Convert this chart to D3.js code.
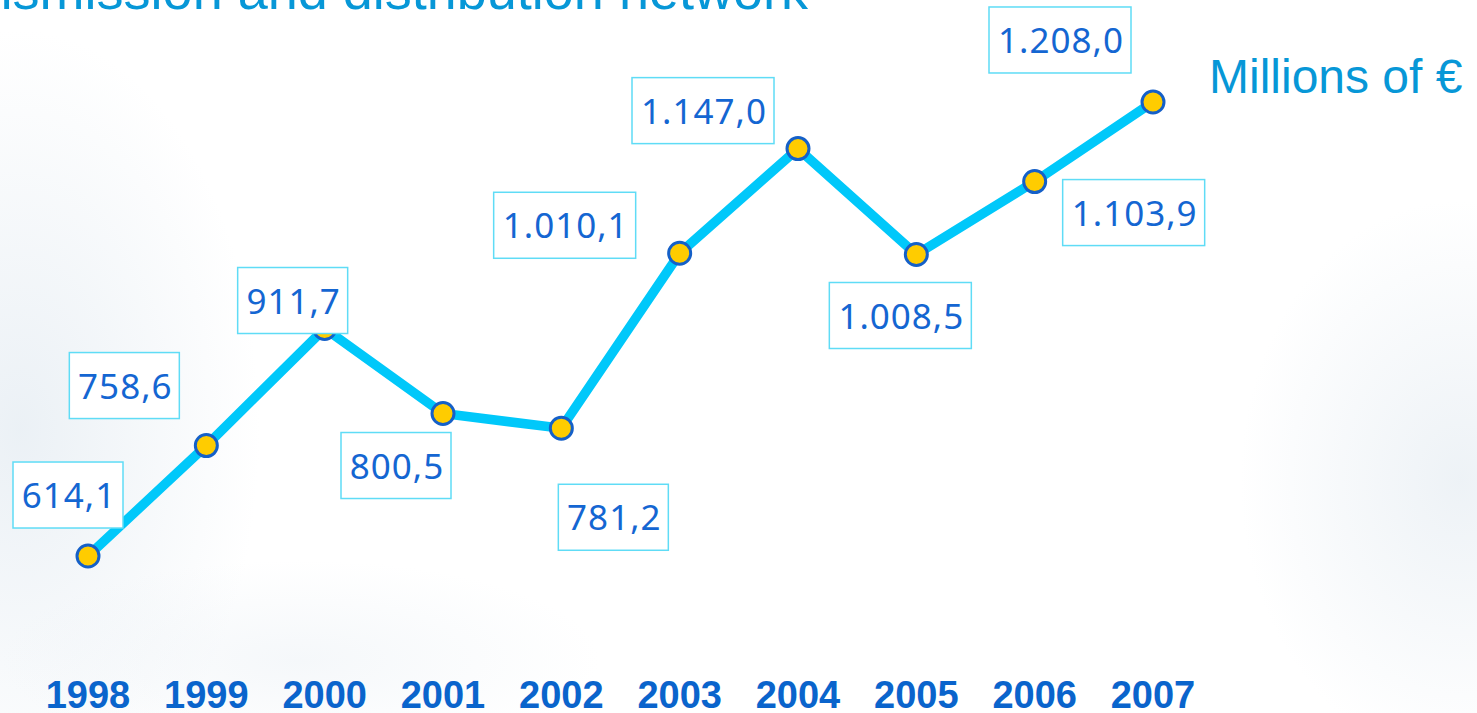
<!DOCTYPE html>
<html>
<head>
<meta charset="utf-8">
<script src="https://cdn.jsdelivr.net/npm/d3@7"></script>
<style>
  html, body { margin: 0; padding: 0; background: #fff; overflow: hidden; }
  svg { display: block; }
</style>
</head>
<body>
<div id="chart"></div>
<script>
// data
let years = [1998, 1999, 2000, 2001, 2002, 2003, 2004, 2005, 2006, 2007];
let values = [614.1, 758.6, 911.7, 800.5, 781.2, 1010.1, 1147.0, 1008.5, 1103.9, 1208.0];
let valueLabels = ["614,1", "758,6", "911,7", "800,5", "781,2", "1.010,1", "1.147,0", "1.008,5", "1.103,9", "1.208,0"];
let titleText = "Transmission and distribution network";
let unitText = "Millions of \u20ac";

// layout of value boxes relative to their point (not data)
let labelOffsets = [[-20, -61], [-82, -60], [-32, -28], [-47, 52], [52, 89],
                    [-115, -28], [-95, -38], [-16, 61], [99, 31], [-93, -62]];

let w = 1477, h = 713;

let svg = d3.select("#chart")
    .append("svg")
    .attr("width", w)
    .attr("height", h);

// soft background blobs
let defs = svg.append("defs");
function blob(id, color) {
    let g = defs.append("radialGradient").attr("id", id);
    g.append("stop").attr("offset", "0%").attr("stop-color", color).attr("stop-opacity", 1);
    g.append("stop").attr("offset", "100%").attr("stop-color", color).attr("stop-opacity", 0);
}
blob("bgLeft", "#e6edf3");
blob("bgRight", "#e9eff4");
svg.append("rect").attr("width", w).attr("height", h).attr("fill", "#ffffff");
svg.append("ellipse").attr("cx", 20).attr("cy", 430).attr("rx", 240).attr("ry", 400).attr("fill", "url(#bgLeft)").attr("opacity", 0.8);
svg.append("ellipse").attr("cx", 1460).attr("cy", 480).attr("rx", 220).attr("ry", 280).attr("fill", "url(#bgRight)").attr("opacity", 0.8);
svg.append("ellipse").attr("cx", 300).attr("cy", 660).attr("rx", 300).attr("ry", 100).attr("fill", "url(#bgLeft)").attr("opacity", 0.4);

let xScale = d3.scaleLinear()
    .domain([1998, 2007])
    .range([88, 1153]);
let yScale = d3.scaleLinear()
    .domain([600, 1200])
    .range([566.8, 108.1]);

// title (cut at the top edge)
svg.append("text")
    .attr("x", 808)
    .attr("y", 9)
    .attr("text-anchor", "end")
    .attr("font-family", "Liberation Sans, Arial, sans-serif")
    .attr("font-size", 54)
    .attr("fill", "#0797d7")
    .text(titleText);

svg.append("text")
    .attr("x", 1209)
    .attr("y", 93)
    .attr("font-family", "Liberation Sans, Arial, sans-serif")
    .attr("font-size", 48)
    .attr("fill", "#0797d7")
    .text(unitText);

// line
let line = d3.line()
    .x((d, i) => xScale(years[i]))
    .y((d) => yScale(d));
svg.append("path")
    .datum(values)
    .attr("d", line)
    .attr("fill", "none")
    .attr("stroke", "#00c8fa")
    .attr("stroke-width", 9.5)
    .attr("stroke-linejoin", "miter");

// points
svg.selectAll("circle.pt")
    .data(values)
    .enter()
    .append("circle")
    .attr("class", "pt")
    .attr("cx", (d, i) => xScale(years[i]))
    .attr("cy", (d) => yScale(d))
    .attr("r", 11)
    .attr("fill", "#ffcc00")
    .attr("stroke", "#1560c8")
    .attr("stroke-width", 3);

// value boxes
let labels = svg.selectAll("g.lbl")
    .data(values)
    .enter()
    .append("g")
    .attr("class", "lbl")
    .attr("transform", (d, i) => "translate(" + (xScale(years[i]) + labelOffsets[i][0]) + "," + (yScale(d) + labelOffsets[i][1]) + ")");
labels.append("rect")
    .attr("x", (d, i) => valueLabels[i].length > 5 ? -71 : -55)
    .attr("y", -33)
    .attr("width", (d, i) => valueLabels[i].length > 5 ? 142 : 110)
    .attr("height", 66)
    .attr("fill", "#ffffff")
    .attr("stroke", "#5fdcf6")
    .attr("stroke-width", 1.5);
labels.append("text")
    .attr("x", 1)
    .attr("y", 13)
    .attr("text-anchor", "middle")
    .attr("font-family", "Noto Sans, Open Sans, sans-serif")
    .attr("font-size", 35)
    .attr("letter-spacing", 1)
    .attr("fill", "#1466d2")
    .text((d, i) => valueLabels[i]);

// year labels
svg.selectAll("text.year")
    .data(years)
    .enter()
    .append("text")
    .attr("class", "year")
    .attr("x", (d) => xScale(d))
    .attr("y", 708)
    .attr("text-anchor", "middle")
    .attr("font-family", "Liberation Sans, Arial, sans-serif")
    .attr("font-weight", "bold")
    .attr("font-size", 38)
    .attr("fill", "#0a64cc")
    .text((d) => d);
</script>
</body>
</html>
